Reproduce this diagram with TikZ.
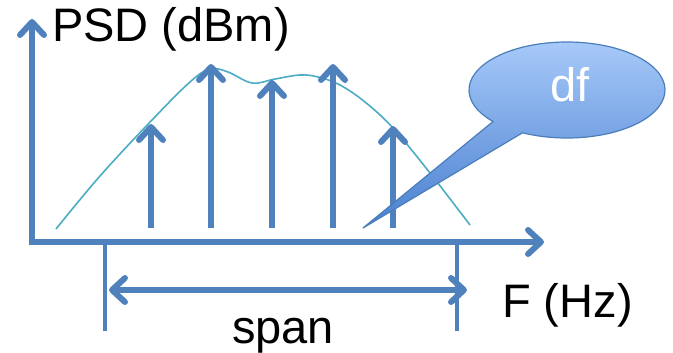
\documentclass[tikz,border=0pt]{standalone}
\usepackage{fontspec}
\setmainfont{Liberation Sans}
\usetikzlibrary{arrows.meta}
\definecolor{axblue}{HTML}{4F81BD}
\definecolor{curveteal}{HTML}{4BACC6}
\definecolor{calltop}{HTML}{A9CBFA}
\definecolor{callbot}{HTML}{4A80D0}
\definecolor{callline}{HTML}{4A7EBB}
\tikzset{
  barbtip/.tip={Straight Barb[length=13pt,width=24pt,round,line width=6pt]},
  barb/.style={-barbtip},
  axisline/.style={axblue, line width=5.5pt},
  spec/.style={axblue, line width=6pt, barb},
  lbl/.style={font=\fontsize{47}{50}\selectfont, inner sep=0pt},
}
\begin{document}
\begin{tikzpicture}[x=1pt,y=-1pt]
\useasboundingbox (0,0) rectangle (673,353);
% axes
\coordinate (org) at (32,242);
\coordinate (ytip) at (32,19);
\coordinate (xtip) at (544,242);
\draw[axisline, barb] ([yshift=-2.75pt]org) -- (ytip);
\draw[axisline, barb] ([xshift=-2.75pt]org) -- (xtip);
% span markers
\coordinate (s1a) at (105,242);
\coordinate (s1b) at (105,331);
\coordinate (s2a) at (457,242);
\coordinate (s2b) at (457,331);
\draw[axblue, line width=4pt] (s1a) -- (s1b);
\draw[axblue, line width=4pt] (s2a) -- (s2b);
\coordinate (dl) at (109,290);
\coordinate (dr) at (467,290);
\draw[axblue, line width=5.5pt, barbtip-barbtip] (dl) -- (dr);
% envelope
\draw[curveteal, line width=1.6pt] plot[smooth, tension=0.6] coordinates {
 (56,229) (100,176) (152,120) (190,82) (210,69) (228,72) (252,83) (275,79) (300,75) (318,77) (340,85) (365,102) (393,128) (430,173) (470,225)};
% spectral lines
\foreach \n/\x/\t in {a/151/124, b/211/64, c/272/80, d/333/64, e/393/126} {
  \coordinate (\n0) at (\x,228);
  \coordinate (\n1) at (\x,\t);
  \draw[spec] (\n0) -- (\n1);
}
% callout
\coordinate (ctip) at (363,228);
\coordinate (cb1) at ({567+98*cos(139)},{90+48*sin(139)});
\shade[top color=calltop, bottom color=callbot, draw=callline, line width=1.2pt, line join=round]
  (ctip) -- (cb1) arc[start angle=139, end angle=477, x radius=98, y radius=48] -- cycle;
\node[lbl, text=white, anchor=base west] (df) at (550,102) {df};
% labels
\node[lbl, anchor=base west] (psd) at (52,42) {PSD (dBm)};
\node[lbl, anchor=base west] (fhz) at (502,317) {F (Hz)};
\node[lbl, anchor=base] (span) at (283,343) {span};
\end{tikzpicture}
\end{document}
